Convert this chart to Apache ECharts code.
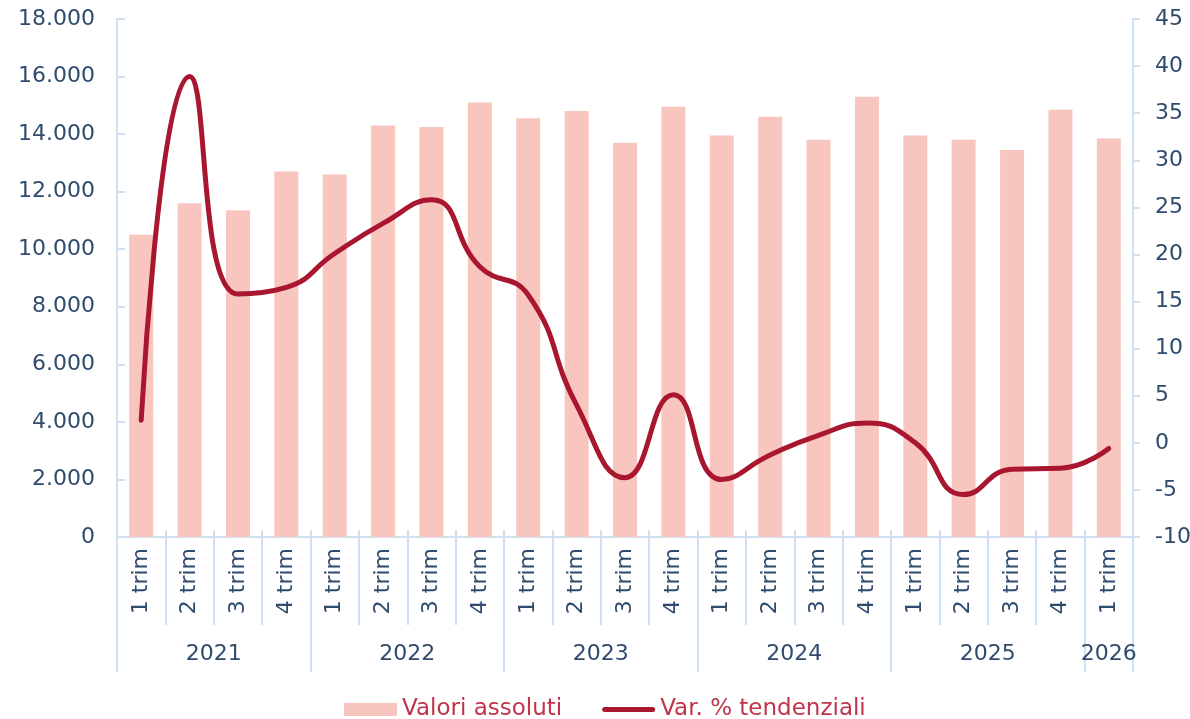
<!DOCTYPE html>
<html>
<head>
<meta charset="utf-8">
<script src="https://cdn.jsdelivr.net/npm/echarts@6/dist/echarts.min.js"></script>
<style>
  html, body { margin: 0; padding: 0; background: #fff; }
  #chart { width: 1190px; height: 719px; }
</style>
</head>
<body>
<div id="chart"></div>
<script>
// dati
const trimestri = [
    '1 trim', '2 trim', '3 trim', '4 trim',
    '1 trim', '2 trim', '3 trim', '4 trim',
    '1 trim', '2 trim', '3 trim', '4 trim',
    '1 trim', '2 trim', '3 trim', '4 trim',
    '1 trim', '2 trim', '3 trim', '4 trim',
    '1 trim'
];
const anni = ['2021', '2022', '2023', '2024', '2025', '2026'];
const anniCentro = [2, 6, 10, 14, 18, 20.5];
const anniConfini = [0, 4, 8, 12, 16, 20, 21];
const valoriAssoluti = [
    10500, 11600, 11350, 12700,
    12600, 14300, 14250, 15100,
    14550, 14800, 13700, 14950,
    13950, 14600, 13800, 15300,
    13950, 13800, 13450, 14850,
    13850
];
const varTendenziali = [
    2.4, 38.9, 15.8, 16.5,
    20.1, 23.3, 25.8, 18.7,
    15.7, 4.0, -3.7, 5.1,
    -3.9, -1.3, 0.8, 2.1,
    0.0, -5.5, -2.8, -2.7,
    -0.6
];

const AXIS = '#cfe0f3';
const TEXT = '#2f4b6e';
const FONT = '"DejaVu Sans"';

const _METHODS = {
    formatMigliaia(v) {
        return String(v).replace(/\B(?=(\d{3})+(?!\d))/g, '.');
    },
    initChart() {
        const option = {
            animation: false,
            textStyle: {fontFamily: FONT},
            grid: {left: 117, right: 57, top: 19, bottom: 182, outerBoundsMode: 'none', containLabel: false},
            legend: {
                left: 339,
                top: 693,
                itemWidth: 53,
                itemHeight: 13,
                itemGap: 40,
                textStyle: {color: '#c0334a', fontSize: 23, fontFamily: FONT},
                data: [
                    {name: 'Valori assoluti', icon: 'rect'},
                    {
                        name: 'Var. % tendenziali',
                        icon: 'path://M0,0 L0,0 M53,13 L53,13 M2.5,4 L50.5,4 A2.5,2.5 0 0 1 50.5,9 L2.5,9 A2.5,2.5 0 0 1 2.5,4 Z',
                        itemStyle: {color: '#a8172f', borderWidth: 0}
                    }
                ]
            },
            xAxis: [
                {
                    type: 'category',
                    data: trimestri,
                    axisLine: {onZero: false, lineStyle: {color: AXIS, width: 2}},
                    axisTick: {show: true, interval: 0, length: 88, lineStyle: {color: AXIS, width: 2}},
                    axisLabel: {interval: 0, rotate: 90, margin: 11, color: TEXT, fontSize: 22, fontFamily: FONT}
                },
                {
                    type: 'value',
                    min: 0,
                    max: 21,
                    position: 'bottom',
                    offset: 88,
                    axisLine: {show: false, onZero: false},
                    splitLine: {show: false},
                    axisTick: {show: true, customValues: anniConfini, length: 47, lineStyle: {color: AXIS, width: 2}},
                    axisLabel: {
                        customValues: anniCentro,
                        margin: 18,
                        color: TEXT,
                        fontSize: 22,
                        fontFamily: FONT,
                        formatter: v => anni[anniCentro.indexOf(v)] || ''
                    }
                },
                {
                    type: 'category',
                    data: trimestri,
                    position: 'bottom',
                    axisLine: {show: false, onZero: false},
                    axisTick: {show: true, inside: true, interval: 0, length: 7, lineStyle: {color: AXIS, width: 2}},
                    axisLabel: {show: false}
                }
            ],
            yAxis: [
                {
                    type: 'value',
                    min: 0,
                    max: 18000,
                    interval: 2000,
                    axisLine: {show: true, lineStyle: {color: AXIS, width: 2}},
                    axisTick: {show: true, inside: true, length: 8, lineStyle: {color: AXIS, width: 2}},
                    splitLine: {show: false},
                    axisLabel: {
                        margin: 22,
                        color: TEXT,
                        fontSize: 22,
                        fontFamily: FONT,
                        formatter: v => _METHODS.formatMigliaia(v)
                    }
                },
                {
                    type: 'value',
                    position: 'right',
                    min: -10,
                    max: 45,
                    interval: 5,
                    axisLine: {show: true, lineStyle: {color: AXIS, width: 2}},
                    axisTick: {show: true, length: 7, lineStyle: {color: AXIS, width: 2}},
                    splitLine: {show: false},
                    axisLabel: {margin: 22, color: TEXT, fontSize: 22, fontFamily: FONT}
                }
            ],
            series: [
                {
                    name: 'Valori assoluti',
                    type: 'bar',
                    barWidth: 24,
                    itemStyle: {color: '#f8c6bf'},
                    data: valoriAssoluti
                },
                {
                    name: 'Var. % tendenziali',
                    type: 'line',
                    yAxisIndex: 1,
                    smooth: true,
                    symbol: 'none',
                    lineStyle: {color: '#a8172f', width: 5, cap: 'round'},
                    itemStyle: {color: '#a8172f'},
                    data: varTendenziali
                }
            ]
        };
        const myChart = echarts.init(document.querySelector('#chart'));
        myChart.setOption(option);
    }
};

_METHODS.initChart();
</script>
</body>
</html>
